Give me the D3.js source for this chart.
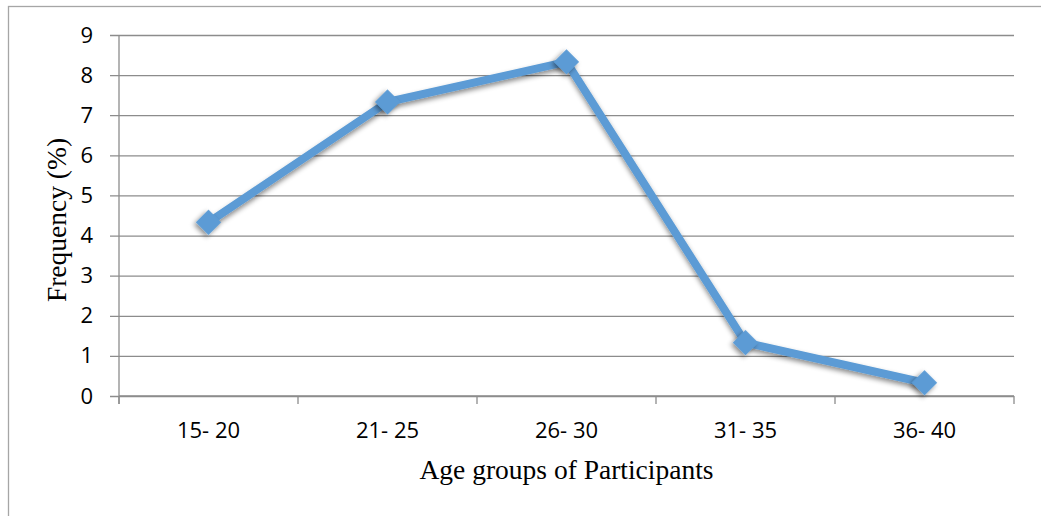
<!DOCTYPE html>
<html><head><meta charset="utf-8">
<script src="https://cdn.jsdelivr.net/npm/d3@7"></script>
<style>body{margin:0;background:#fff}svg{display:block}</style>
</head><body>
<script>
const categories = ["15- 20","21- 25","26- 30","31- 35","36- 40"];
const values = [4.33, 7.33, 8.33, 1.33, 0.33];
const yTicks = [0,1,2,3,4,5,6,7,8,9];
const xTitle = "Age groups of Participants";
const yTitle = "Frequency (%)";

(function(){
const W = 1041, H = 516;
const svg = d3.select("body").append("svg").attr("width", W).attr("height", H);
const pL = 119, pR = 1014, pT = 35, pB = 396;

const defs = svg.append("defs");
const f = defs.append("filter").attr("id","sh").attr("x","-50%").attr("y","-50%").attr("width","200%").attr("height","200%");
f.append("feDropShadow").attr("dx",0).attr("dy",3).attr("stdDeviation",2.5).attr("flood-color","#000").attr("flood-opacity",0.45);

// outer border
svg.append("rect").attr("x",8.5).attr("y",6.5).attr("width",W).attr("height",H)
  .attr("fill","none").attr("stroke","#a6a6a6").attr("stroke-width",1.3);

const x = d3.scaleBand().domain(categories).range([pL, pR]);
const y = d3.scaleLinear().domain([0, 9]).range([pB, pT]);

// gridlines and y ticks
const yAxis = d3.axisLeft(y).tickValues(yTicks).tickSize(-(pR-pL)).tickSizeOuter(0).tickPadding(26);
const gy = svg.append("g").attr("transform",`translate(${pL},0)`).call(yAxis);
gy.select(".domain").remove();
gy.selectAll(".tick line").attr("stroke","#8c8c8c").attr("stroke-width",1.3).attr("x1",-9);
gy.selectAll(".tick text").attr("font-family","'Open Sans', sans-serif").attr("font-size",22).attr("fill","#000");

// y axis line
svg.append("line").attr("x1",pL).attr("x2",pL).attr("y1",pT).attr("y2",pB+8)
  .attr("stroke","#8c8c8c").attr("stroke-width",1.3);

// x axis
const xAxis = d3.axisBottom(x).tickSize(0).tickPadding(26);
const gx = svg.append("g").attr("transform",`translate(0,${pB})`).call(xAxis);
gx.select(".domain").remove();
gx.selectAll(".tick text").attr("font-family","'Open Sans', sans-serif").attr("font-size",22).attr("fill","#000");
const bounds = categories.map(c => x(c)).concat([x(categories[categories.length-1]) + x.bandwidth()]);
svg.append("g").selectAll("line").data(bounds).join("line")
  .attr("x1",d=>d).attr("x2",d=>d).attr("y1",pB).attr("y2",pB+8)
  .attr("stroke","#8c8c8c").attr("stroke-width",1.3);
svg.append("line").attr("x1",pL).attr("x2",pR).attr("y1",pB).attr("y2",pB)
  .attr("stroke","#8c8c8c").attr("stroke-width",1.3);

// titles
svg.append("text").attr("x",(418+715)/2).attr("y",479).attr("text-anchor","middle")
  .attr("font-family","'Liberation Serif', serif").attr("font-size",27.5).text(xTitle);
svg.append("text").attr("transform",`translate(66,220) rotate(-90)`).attr("text-anchor","middle")
  .attr("font-family","'Liberation Serif', serif").attr("font-size",27.5).text(yTitle);

// line
const cx = d => x(d) + x.bandwidth()/2;
const data = categories.map((c,i)=>({c, v: values[i]}));
const line = d3.line().x(d=>cx(d.c)).y(d=>y(d.v));
svg.append("path").datum(data).attr("d",line).attr("fill","none")
  .attr("stroke","#5b9bd5").attr("stroke-width",8).attr("stroke-linejoin","round")
  .attr("filter","url(#sh)");
svg.append("g").selectAll("path").data(data).join("path")
  .attr("d", d3.symbol().type(d3.symbolSquare).size(320)())
  .attr("transform",d=>`translate(${cx(d.c)},${y(d.v)}) rotate(45)`)
  .attr("fill","#5b9bd5").attr("filter","url(#sh)");
})();
</script>
</body></html>
